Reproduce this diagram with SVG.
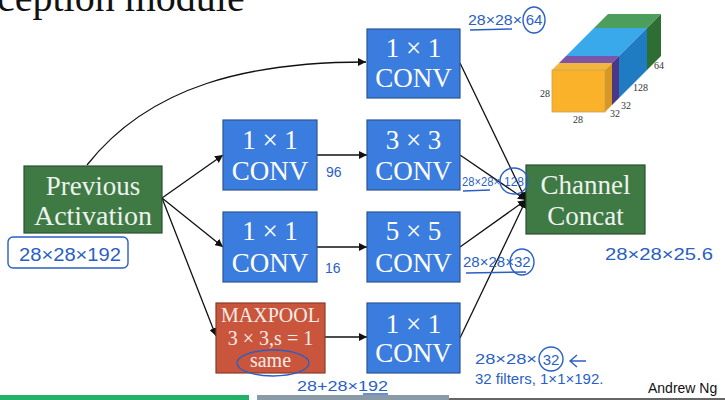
<svg xmlns="http://www.w3.org/2000/svg" width="725" height="400" viewBox="0 0 725 400">
<defs>
<marker id="ah" viewBox="0 0 10 10" refX="10" refY="5" markerWidth="8" markerHeight="8" markerUnits="userSpaceOnUse" orient="auto"><path d="M0,0 L10,5 L0,10 z" fill="#111"/></marker>
<style>
.blue{fill:#3b7ddf;stroke:#2b5595;stroke-width:1.2}
.green{fill:#3f7a45;stroke:#2d4f30;stroke-width:1.2}
.red{fill:#c9563c;stroke:#8a3a28;stroke-width:1.2}
.bt{font-family:"Liberation Serif",serif;font-size:27px;fill:#ffffff;text-anchor:middle}
.gt{font-family:"Liberation Serif",serif;font-size:27px;fill:#eef2ee;text-anchor:middle}
.rt{font-family:"Liberation Serif",serif;font-size:20px;fill:#f6ece8;text-anchor:middle}
.hw{font-family:"Liberation Sans",sans-serif;fill:#2a5fc4}
.hl{fill:none;stroke:#2a5fc4;stroke-width:1.4}
.cl{font-family:"Liberation Serif",serif;font-size:10px;fill:#333}
.edge{fill:none;stroke:#111;stroke-width:1.3}
</style>
</defs>
<rect width="725" height="400" fill="#ffffff"/>
<text x="-3" y="11" font-family="Liberation Serif,serif" font-size="40" fill="#111">ception module</text>

<g id="connectors">
<path class="edge" d="M87,165 C150,85 250,62 366,62" marker-end="url(#ah)"/>
<line class="edge" x1="162" y1="198" x2="223" y2="155" marker-end="url(#ah)"/>
<line class="edge" x1="162" y1="198" x2="223" y2="247" marker-end="url(#ah)"/>
<line class="edge" x1="162" y1="198" x2="216" y2="336" marker-end="url(#ah)"/>
<line class="edge" x1="317" y1="155" x2="367" y2="155" marker-end="url(#ah)"/>
<line class="edge" x1="317" y1="247" x2="367" y2="247" marker-end="url(#ah)"/>
<line class="edge" x1="325" y1="337" x2="367" y2="337" marker-end="url(#ah)"/>
<line class="edge" x1="460" y1="63" x2="526" y2="200" marker-end="url(#ah)"/>
<line class="edge" x1="460" y1="155" x2="526" y2="200" marker-end="url(#ah)"/>
<line class="edge" x1="460" y1="247" x2="526" y2="200" marker-end="url(#ah)"/>
<line class="edge" x1="460" y1="338" x2="526" y2="200" marker-end="url(#ah)"/>
</g>

<g id="prev">
<rect class="green" x="24" y="166" width="138" height="67"/>
<text class="gt" x="93" y="195">Previous</text>
<text class="gt" x="93" y="225" textLength="118" lengthAdjust="spacingAndGlyphs">Activation</text>
</g>
<g id="conv1a">
<rect class="blue" x="367" y="29" width="93" height="69"/>
<text class="bt" x="413.5" y="57">1 × 1</text>
<text class="bt" x="413.5" y="87">CONV</text>
</g>
<g id="conv1b">
<rect class="blue" x="223" y="120" width="94" height="70"/>
<text class="bt" x="270" y="149">1 × 1</text>
<text class="bt" x="270" y="180">CONV</text>
</g>
<g id="conv3">
<rect class="blue" x="367" y="120" width="93" height="70"/>
<text class="bt" x="413.5" y="149">3 × 3</text>
<text class="bt" x="413.5" y="180">CONV</text>
</g>
<g id="conv1c">
<rect class="blue" x="223" y="212" width="94" height="70"/>
<text class="bt" x="270" y="240">1 × 1</text>
<text class="bt" x="270" y="272">CONV</text>
</g>
<g id="conv5">
<rect class="blue" x="367" y="212" width="93" height="70"/>
<text class="bt" x="413.5" y="240">5 × 5</text>
<text class="bt" x="413.5" y="272">CONV</text>
</g>
<g id="maxpool">
<rect class="red" x="216" y="303" width="109" height="70"/>
<text class="rt" x="270.5" y="322">MAXPOOL</text>
<text class="rt" x="270.5" y="345">3 × 3,s = 1</text>
<text class="rt" x="270.5" y="367">same</text>
</g>
<g id="conv1d">
<rect class="blue" x="367" y="303" width="93" height="70"/>
<text class="bt" x="413.5" y="333">1 × 1</text>
<text class="bt" x="413.5" y="362">CONV</text>
</g>
<g id="concat">
<rect class="green" x="526" y="165" width="119" height="69"/>
<text class="gt" x="585.5" y="194">Channel</text>
<text class="gt" x="585.5" y="225">Concat</text>
</g>

<g id="volume">
<polygon points="594,28 647,28 661,14 608,14" fill="#4b9e5c"/>
<polygon points="647,28 661,14 661,56 647,70" fill="#2f6e32"/>
<polygon points="566,56 619,56 647,28 594,28" fill="#3aa9ec"/>
<polygon points="619,56 647,28 647,70 619,98" fill="#1f7bc2"/>
<polygon points="559,63 612,63 619,56 566,56" fill="#7c55a8"/>
<polygon points="612,63 619,56 619,98 612,105" fill="#4a3788"/>
<polygon points="552,70 605,70 612,63 559,63" fill="#f3b63c"/>
<polygon points="605,70 612,63 612,105 605,112" fill="#d8981f"/>
<rect x="552" y="70" width="53" height="42" fill="#fbb22b" stroke="#c9a060" stroke-width="0.8"/>
<text class="cl" x="550" y="97" text-anchor="end">28</text>
<text class="cl" x="578" y="123" text-anchor="middle">28</text>
<text class="cl" x="610" y="117">32</text>
<text class="cl" x="621" y="109">32</text>
<text class="cl" x="633" y="91">128</text>
<text class="cl" x="654" y="69">64</text>
</g>

<g id="annotations">
<text class="hw" x="468" y="25" font-size="15" textLength="54" lengthAdjust="spacingAndGlyphs">28×28×</text>
<text class="hw" x="534" y="25" font-size="15" text-anchor="middle">64</text>
<ellipse class="hl" cx="534" cy="20" rx="11" ry="13"/>
<line class="hl" x1="470" y1="30" x2="512" y2="29"/>

<rect class="hl" x="8" y="237" width="120" height="31" rx="5"/>
<text class="hw" x="19" y="261" font-size="18" textLength="102" lengthAdjust="spacingAndGlyphs">28×28×192</text>

<text class="hw" x="326" y="177" font-size="14">96</text>
<text class="hw" x="325" y="273" font-size="14">16</text>

<text class="hw" x="462" y="186" font-size="12" textLength="38" lengthAdjust="spacingAndGlyphs">28×28×</text>
<text class="hw" x="514" y="186" font-size="12" text-anchor="middle">128</text>
<ellipse class="hl" cx="514" cy="181" rx="14" ry="13"/>
<line class="hl" x1="463" y1="191" x2="490" y2="190"/>

<text class="hw" x="463" y="267" font-size="15">28×28×32</text>
<ellipse class="hl" cx="522" cy="262" rx="12" ry="13"/>
<line class="hl" x1="466" y1="273" x2="526" y2="272"/>

<text class="hw" x="605" y="260" font-size="17" textLength="108" lengthAdjust="spacingAndGlyphs">28×28×25.6</text>

<text class="hw" x="475" y="364" font-size="15" textLength="62" lengthAdjust="spacingAndGlyphs">28×28×</text>
<text class="hw" x="551" y="365" font-size="15" text-anchor="middle">32</text>
<ellipse class="hl" cx="551" cy="359" rx="12" ry="12"/>
<path class="hl" d="M586,361 L570,361 M577,355 L570,361 L577,367"/>
<text class="hw" x="475" y="384" font-size="15">32 filters, 1×1×192.</text>

<text class="hw" x="297" y="391" font-size="14" textLength="91" lengthAdjust="spacingAndGlyphs">28+28×192</text>
<line class="hl" x1="363" y1="394" x2="388" y2="394"/>

<ellipse class="hl" cx="273" cy="363" rx="36" ry="13"/>
</g>

<text x="648" y="393" font-family="Liberation Sans,sans-serif" font-size="14" fill="#111">Andrew Ng</text>

<rect x="0" y="395" width="249" height="5" fill="#22b26a"/>
<rect x="257" y="395" width="192" height="5" fill="#8a9aa6"/>
<rect x="449" y="398" width="276" height="2" fill="#666"/>
</svg>
